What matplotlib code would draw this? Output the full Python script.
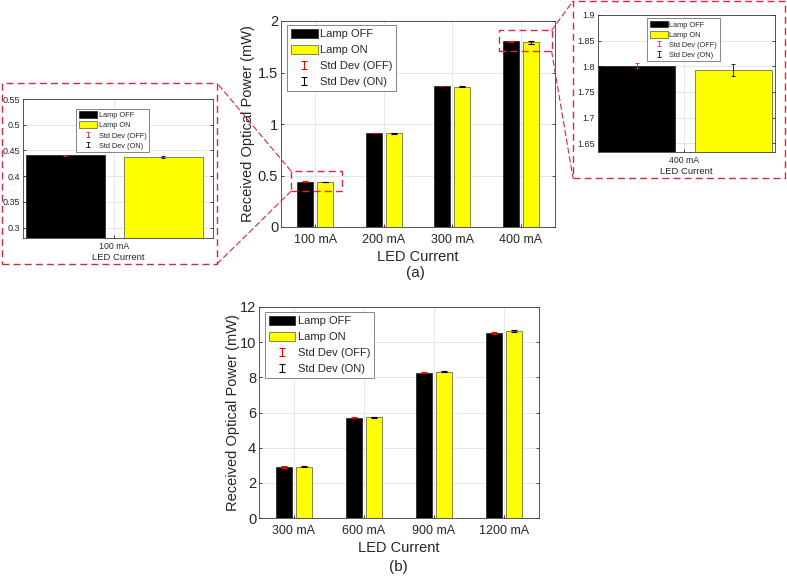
import numpy as np
import matplotlib
matplotlib.use('Agg')
import matplotlib.pyplot as plt
from matplotlib.patches import Rectangle, ConnectionPatch
from matplotlib.container import ErrorbarContainer
from matplotlib.legend_handler import HandlerErrorbar

plt.rcParams['font.family'] = ['Liberation Sans', 'DejaVu Sans']

# (a) low current measurements
cats_a = ['100 mA', '200 mA', '300 mA', '400 mA']
off_a = [0.4408, 0.912, 1.368, 1.801]
on_a = [0.4375, 0.909, 1.361, 1.793]
off_std_a = [0.001, 0.002, 0.003, 0.0045]
on_std_a = [0.0023, 0.003, 0.006, 0.012]

# (b) high current measurements
cats_b = ['300 mA', '600 mA', '900 mA', '1200 mA']
off_b = [2.90, 5.71, 8.27, 10.52]
on_b = [2.92, 5.74, 8.33, 10.62]
off_std_b = [0.03, 0.03, 0.04, 0.05]
on_std_b = [0.04, 0.03, 0.05, 0.06]

TXT = '#262626'
RED = '#d8283a'
W, H = 787, 577


def px_axes(fig, x0, y0, x1, y1):
    return fig.add_axes([x0 / W, 1 - y1 / H, (x1 - x0) / W, (y1 - y0) / H])


def style_axes(ax, xfs, yfs, pad):
    ax.set_axisbelow(True)
    ax.grid(True, color='#e3e3e3', linewidth=0.6)
    ax.tick_params(direction='in', length=2.5, width=0.6, colors=TXT,
                   right=True, top=False, pad=pad)
    ax.tick_params(axis='x', labelsize=xfs)
    ax.tick_params(axis='y', labelsize=yfs, pad=2)
    for s in ax.spines.values():
        s.set_color('#3a3a3a')
        s.set_linewidth(0.6)


def draw_bars(ax, x, off, on, off_std, on_std, width, dl, dr, cap, ecol_off, lw):
    x = np.asarray(x, dtype=float)
    ax.bar(x - dl, off, width, color='black', edgecolor='black', linewidth=0.4,
           label='Lamp OFF', zorder=2)
    ax.bar(x + dr, on, width, color='#ffff00', edgecolor='#555533', linewidth=0.5,
           label='Lamp ON', zorder=2)
    ax.errorbar(x - dl, off, yerr=off_std, fmt='none', ecolor=ecol_off, elinewidth=lw,
                capsize=cap, capthick=lw, label='Std Dev (OFF)', zorder=3)
    ax.errorbar(x + dr, on, yerr=on_std, fmt='none', ecolor='black', elinewidth=lw,
                capsize=cap, capthick=lw, label='Std Dev (ON)', zorder=3)


def add_legend(ax, fs, x, y, hl, hh, ls):
    leg = ax.legend(loc='upper left', bbox_to_anchor=(x, y), fontsize=fs,
                    frameon=True, fancybox=False, edgecolor='#555555',
                    framealpha=1, handlelength=hl, handleheight=hh,
                    handletextpad=0.2, borderpad=0.35, labelspacing=ls,
                    borderaxespad=0,
                    handler_map={ErrorbarContainer: HandlerErrorbar(xerr_size=0.35)})
    leg.get_frame().set_linewidth(0.5)
    for t in leg.get_texts():
        t.set_color(TXT)
    return leg


fig = plt.figure(figsize=(W / 100, H / 100), dpi=100)

# ---------- main (a)
ax_a = px_axes(fig, 281, 21, 555, 227)
xa = np.arange(1, len(cats_a) + 1)
draw_bars(ax_a, xa, off_a, on_a, off_std_a, on_std_a, 0.23, 0.147, 0.147, 2.0, 'red', 0.8)
ax_a.set_xlim(0.5, 4.5)
ax_a.set_ylim(0, 2)
ax_a.set_yticks([0, 0.5, 1, 1.5, 2])
ax_a.set_yticklabels(['0', '0.5', '1', '1.5', '2'])
ax_a.set_xticks(xa)
ax_a.set_xticklabels(cats_a)
style_axes(ax_a, 9, 10.5, 5)
ax_a.set_xlabel('LED Current', fontsize=10.5, color=TXT, labelpad=3)
ax_a.set_ylabel('Received Optical Power (mW)', fontsize=10.5, color=TXT)
ax_a.yaxis.set_label_coords(-0.095, 0.5)
add_legend(ax_a, 8, 0.022, 0.98, 2.4, 0.9, 0.5)

# ---------- main (b)
ax_b = px_axes(fig, 259, 307, 539, 518)
xb = np.arange(1, len(cats_b) + 1)
draw_bars(ax_b, xb, off_b, on_b, off_std_b, on_std_b, 0.23, 0.147, 0.147, 2.0, 'red', 0.8)
ax_b.set_xlim(0.5, 4.5)
ax_b.set_ylim(0, 12)
ax_b.set_yticks([0, 2, 4, 6, 8, 10, 12])
ax_b.set_xticks(xb)
ax_b.set_xticklabels(cats_b)
style_axes(ax_b, 9, 10.5, 5)
ax_b.set_xlabel('LED Current', fontsize=10.5, color=TXT, labelpad=3)
ax_b.set_ylabel('Received Optical Power (mW)', fontsize=10.5, color=TXT)
ax_b.yaxis.set_label_coords(-0.068, 0.5)
add_legend(ax_b, 8, 0.021, 0.976, 2.4, 0.9, 0.5)

# ---------- inset 100 mA
ax_l = px_axes(fig, 23, 99, 213, 238)
draw_bars(ax_l, [1], off_a[:1], on_a[:1], off_std_a[:1], on_std_a[:1],
          0.416, 0.257, 0.257, 1.2, RED, 0.6)
ax_l.set_xlim(0.52, 1.52)
ax_l.set_ylim(0.28, 0.55)
ax_l.set_yticks([0.3, 0.35, 0.4, 0.45, 0.5, 0.55])
ax_l.set_yticklabels(['0.3', '0.35', '0.4', '0.45', '0.5', '0.55'])
ax_l.set_xticks([1])
ax_l.set_xticklabels(cats_a[:1])
style_axes(ax_l, 6.3, 6.5, 3)
ax_l.set_xlabel('LED Current', fontsize=6.8, color=TXT, labelpad=1)
add_legend(ax_l, 5.3, 0.28, 0.93, 2.5, 1.05, 0.3)

# ---------- inset 400 mA
ax_r = px_axes(fig, 598, 15, 775, 152)
draw_bars(ax_r, [1], off_a[3:], on_a[3:], off_std_a[3:], on_std_a[3:],
          0.436, 0.269, 0.278, 1.2, RED, 0.6)
ax_r.set_xlim(0.513, 1.513)
ax_r.set_ylim(1.633, 1.9)
ax_r.set_yticks([1.65, 1.7, 1.75, 1.8, 1.85, 1.9])
ax_r.set_yticklabels(['1.65', '1.7', '1.75', '1.8', '1.85', '1.9'])
ax_r.set_xticks([1])
ax_r.set_xticklabels(cats_a[3:])
style_axes(ax_r, 6.3, 6.5, 3)
ax_r.set_xlabel('LED Current', fontsize=6.8, color=TXT, labelpad=1)
add_legend(ax_r, 5.3, 0.277, 0.978, 2.5, 1.05, 0.3)

# ---------- dashed zoom frames and connectors
dash = dict(edgecolor=RED, facecolor='none', linestyle=(0, (5, 3)), linewidth=1.0)
fl = (2, 83, 217, 264)
fr = (573, 1, 785, 178)
for (x0, y0, x1, y1) in (fl, fr):
    fig.add_artist(Rectangle((x0 / W, 1 - y1 / H), (x1 - x0) / W, (y1 - y0) / H,
                             transform=fig.transFigure, **dash))

box_l = (0.646, 0.347, 1.386, 0.544)
box_r = (3.687, 1.705, 4.451, 1.909)
for (x0, y0, x1, y1) in (box_l, box_r):
    ax_a.add_patch(Rectangle((x0, y0), x1 - x0, y1 - y0, zorder=4, clip_on=False, **dash))

links = [((box_l[0], box_l[3]), (fl[2], fl[1])),
         ((box_l[0], box_l[1]), (fl[2], fl[3])),
         ((box_r[2], box_r[3]), (fr[0], fr[1])),
         ((box_r[2], box_r[1]), (fr[0], fr[3]))]
for (pa, pf) in links:
    fig.add_artist(ConnectionPatch(xyA=pa, coordsA=ax_a.transData,
                                   xyB=(pf[0] / W, 1 - pf[1] / H), coordsB=fig.transFigure,
                                   color=RED, linestyle=(0, (5, 3)), linewidth=0.8))

fig.text(415 / W, 1 - 273 / H, '(a)', ha='center', va='center', fontsize=11, color=TXT)
fig.text(398 / W, 1 - 567 / H, '(b)', ha='center', va='center', fontsize=11, color=TXT)

fig.savefig('out.png', dpi=100)
